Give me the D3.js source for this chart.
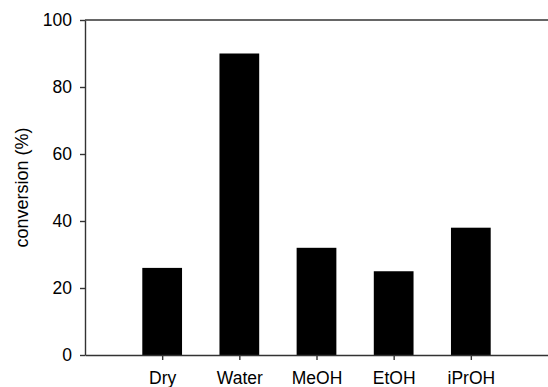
<!DOCTYPE html>
<html><head><meta charset="utf-8">
<script src="https://cdn.jsdelivr.net/npm/d3@7"></script>
<style>body{margin:0;background:#fff}svg{display:block}</style>
</head><body><svg id="c" width="548" height="387"></svg>
<script>
const categories = ["Dry","Water","MeOH","EtOH","iPrOH"];
const conversion = [26, 90, 32, 25, 38];
const yTicks = [0,20,40,60,80,100];

const svg = d3.select("#c");
const mLeft = 85, mRight = 548, mTop = 20, mBottom = 355;
const font = "'Liberation Sans', Arial, sans-serif";

const x = d3.scalePoint().domain(categories).range([mLeft, mRight]).padding(1);
const y = d3.scaleLinear().domain([0,100]).range([mBottom, mTop]);
const bw = x.step() * 0.515;

svg.selectAll("rect.bar").data(categories).enter().append("rect")
  .attr("class","bar")
  .attr("x", d => x(d) - bw/2)
  .attr("width", bw)
  .attr("y", (d,i) => y(conversion[i]))
  .attr("height", (d,i) => y(0) - y(conversion[i]))
  .attr("fill", "#000");

const ya = svg.append("g").attr("transform", `translate(${mLeft},0)`)
  .call(d3.axisLeft(y).tickValues(yTicks).tickSize(5).tickPadding(8).tickSizeOuter(0));
const xa = svg.append("g").attr("transform", `translate(0,${mBottom})`)
  .call(d3.axisBottom(x).tickSize(5).tickPadding(12).tickSizeOuter(0));
svg.append("line").attr("x1", mLeft).attr("x2", mRight).attr("y1", mTop).attr("y2", mTop)
  .attr("stroke", "#333").attr("stroke-width", 1.4);

[ya, xa].forEach(g => {
  g.select(".domain").attr("stroke", "#333").attr("stroke-width", 1.4);
  g.selectAll(".tick line").attr("stroke", "#333").attr("stroke-width", 1.4);
  g.selectAll(".tick text").attr("font-family", font).attr("font-size", 17.5).attr("fill", "#000");
});

svg.append("text")
  .attr("transform", `translate(28,${(mTop+mBottom)/2}) rotate(-90)`)
  .attr("text-anchor", "middle")
  .attr("font-family", font).attr("font-size", 18)
  .text("conversion (%)");
</script></body></html>
